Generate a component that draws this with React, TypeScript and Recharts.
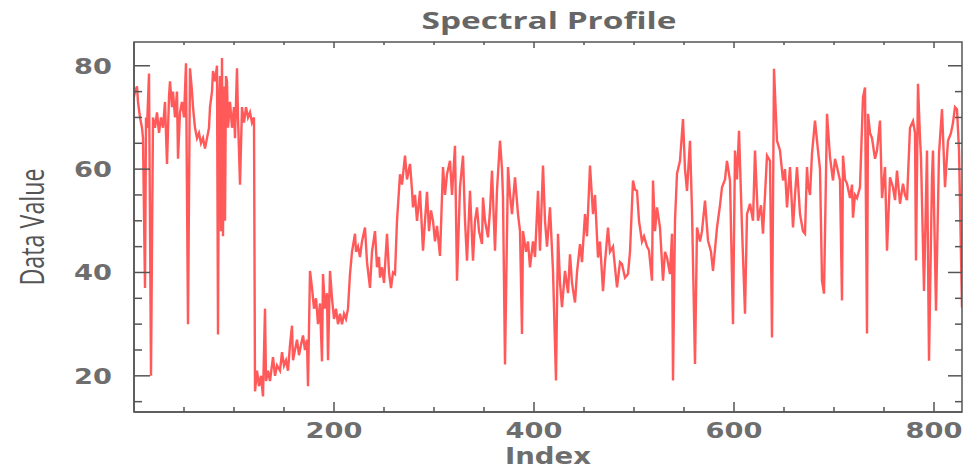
import { LineChart, Line, XAxis, YAxis, ReferenceArea } from "recharts";

// band index -> data value
const indices = [
  0, 1, 3, 4, 6, 8, 9, 11, 12, 13, 15, 17, 19, 21, 23, 25, 27, 29, 31, 33, 35, 36, 38, 39, 41, 43, 44, 46, 48, 50,
  52, 54, 56, 58, 59, 61, 63, 65, 67, 69, 71, 73, 75, 76, 78, 79, 81, 83, 84, 85, 86, 87, 88, 89, 90, 91, 92, 93,
  94, 96, 98, 100, 101, 103, 104, 106, 108, 110, 112, 114, 116, 118, 120, 121, 123, 125, 127, 129, 131, 132, 134,
  136, 139, 141, 143, 146, 148, 150, 152, 154, 156, 158, 159, 161, 163, 165, 167, 169, 171, 173, 174, 176, 178,
  180, 182, 184, 186, 188, 189, 191, 193, 194, 196, 198, 200, 202, 204, 206, 208, 210, 212, 214, 216, 218, 221,
  222, 224, 226, 228, 231, 233, 236, 238, 241, 243, 245, 246, 248, 250, 253, 255, 257, 259, 261, 263, 266, 268,
  271, 273, 276, 278, 279, 281, 283, 286, 289, 291, 293, 295, 297, 299, 301, 303, 306, 309, 311, 313, 316, 318,
  321, 323, 326, 329, 331, 333, 336, 339, 341, 343, 345, 348, 349, 351, 354, 356, 358, 361, 363, 366, 368, 369,
  371, 374, 376, 378, 381, 384, 386, 388, 389, 392, 394, 396, 399, 401, 404, 406, 409, 411, 413, 416, 419, 422,
  424, 426, 428, 431, 434, 436, 438, 441, 443, 446, 448, 451, 453, 456, 459, 461, 464, 466, 469, 471, 474, 476,
  479, 481, 483, 486, 488, 491, 494, 496, 499, 501, 503, 505, 508, 510, 513, 515, 518, 519, 521, 523, 526, 529,
  531, 533, 536, 538, 539, 541, 543, 546, 549, 551, 553, 556, 558, 561, 563, 566, 568, 571, 574, 577, 579, 583,
  586, 588, 591, 593, 596, 599, 601, 603, 605, 608, 611, 613, 616, 619, 621, 624, 627, 629, 631, 633, 636, 638,
  640, 642, 643, 646, 649, 651, 653, 656, 659, 661, 663, 666, 669, 671, 673, 674, 676, 678, 681, 684, 686, 688,
  690, 693, 696, 699, 701, 703, 706, 708, 709, 711, 713, 716, 718, 719, 721, 723, 726, 729, 731, 733, 734, 736,
  738, 741, 743, 746, 748, 751, 753, 756, 759, 761, 763, 766, 769, 771, 773, 776, 779, 781, 782, 784, 786, 787,
  790, 793, 795, 798, 799, 802, 805, 808, 811, 814, 817, 819, 821, 823, 825, 828,
];

const values = [
  74, 75, 76, 73, 70, 68, 66, 37, 70, 68, 78.5, 20, 70, 68, 71, 67, 70, 68, 73, 61, 74, 77, 72, 75, 70, 75, 62, 71,
  73, 70, 80.5, 30, 79.5, 75, 72, 68, 66, 67, 65, 66, 64, 66, 68, 72, 75, 79, 77, 80, 28, 72, 78, 48, 81.5, 47,
  76, 50, 78, 77, 68, 73, 68, 72, 66, 79.5, 70, 57, 72, 69, 72, 70, 71, 69, 70, 17, 21, 18, 20, 16, 33, 19, 21,
  19, 23.6, 20, 22, 21, 24.6, 22, 23, 21, 26, 29.7, 23, 25, 27, 24, 26, 27.8, 25, 27, 18, 40.3, 37, 33, 35, 30, 34,
  22.8, 39.7, 33, 36, 23, 40.3, 35, 31, 33, 30, 32, 30, 32, 31, 33, 39.7, 44, 47.5, 44, 45, 43, 46, 48.7, 42, 37,
  44, 48, 41, 43, 39, 41, 38, 47.5, 40, 37, 40, 39.7, 50, 59, 57, 62.6, 58, 61, 56, 52.6, 55, 50, 55.8, 44.2, 50,
  55.6, 48, 52, 50, 46, 49, 43.2, 60.4, 55, 59, 61.6, 55, 64.5, 38.4, 56.5, 62.6, 50, 42.3, 55.8, 42.3, 50, 52.6,
  48, 45.5, 54.5, 50, 46.8, 52, 59.7, 44.2, 56, 65.5, 60, 54.5, 22.2, 60.4, 55, 51.3, 58.4, 51.3, 48, 28.1, 48, 44,
  46, 41, 46, 43, 55.8, 44.2, 60.7, 50, 45, 52.6, 40.3, 19.1, 47.5, 38, 33.3, 40.3, 36, 43.5, 38, 34.2, 40, 45.5,
  42, 51.3, 47, 60.7, 51.3, 55, 42.9, 46, 36.4, 42, 48.7, 44, 45, 41, 37.1, 42, 41.6, 39, 39.7, 44, 57.8, 56, 55.8,
  50, 46, 47, 45, 44.3, 38.4, 57.8, 48, 52.6, 48.7, 38.4, 44, 42.9, 39.7, 47.5, 19.1, 50, 59.1, 61.6, 69.7, 60,
  55.8, 65.5, 52, 22.3, 48.7, 46, 48, 53.9, 46.2, 44, 40.3, 48.7, 53, 56.5, 58, 61.6, 57.8, 30, 63.6, 58, 67.4,
  48.7, 32, 51.3, 53.3, 50, 63.6, 50, 53, 47.5, 55, 62.6, 61.6, 27.4, 79.4, 70, 65.5, 63.6, 57.8, 60, 52.6, 60.4,
  48.7, 55, 60.4, 51.3, 48, 47.5, 60.4, 57.2, 55, 63, 69.4, 63.6, 60, 38.4, 35.9, 70.7, 62.3, 57.8, 62, 60.4, 57.8,
  34.6, 62.6, 58, 57.2, 54.4, 57, 50.6, 55, 54.4, 56.5, 73.9, 75.8, 28.2, 70.7, 67, 66, 62, 63.6, 69.4, 54.4, 60.4,
  44.2, 58.4, 56.5, 54, 59.7, 53.3, 57.2, 55, 54, 68, 69.3, 67, 42.3, 76.5, 66, 62.3, 36.4, 63.6, 22.9, 58.4, 63.6,
  32.6, 63, 71.6, 56.5, 65.5, 67, 69, 72, 71.6, 63.6, 33.2,
];

const xTicks = [50, 100, 150, 200, 250, 300, 350, 400, 450, 500, 550, 600, 650, 700, 750, 800];
const yTicks = [15, 20, 25, 30, 35, 40, 45, 50, 55, 60, 65, 70, 75, 80];

const data = indices.map((index, i) => ({ index, value: values[i] }));

const LEFT = 134;
const RIGHT = 962;
const TOP = 42;
const BOTTOM = 412;
const AXIS = "#555";
const LABEL = "#6e6e6e";
const STRETCH = 1.33;

function XTick({ x, payload }: any) {
  const major = payload.value % 200 === 0;
  return (
    <g>
      <line x1={x} x2={x} y1={BOTTOM} y2={BOTTOM - (major ? 10 : 5)} stroke={AXIS} strokeWidth={1.5} />
      <line x1={x} x2={x} y1={TOP} y2={TOP + (major ? 6 : 3)} stroke={AXIS} strokeWidth={1.5} />
      {major && (
        <text
          transform={`translate(${x},${438}) scale(${STRETCH},1)`}
          textAnchor="middle"
          fontFamily="DejaVu Sans"
          fontWeight="bold"
          fontSize={20.5}
          fill={LABEL}
        >
          {payload.value}
        </text>
      )}
    </g>
  );
}

function YTick({ y, payload }: any) {
  const major = payload.value % 20 === 0;
  return (
    <g>
      <line x1={LEFT} x2={LEFT + (major ? 16 : 8)} y1={y} y2={y} stroke={AXIS} strokeWidth={1.5} />
      <line x1={RIGHT} x2={RIGHT - (major ? 14 : 7)} y1={y} y2={y} stroke={AXIS} strokeWidth={1.5} />
      {major && (
        <text
          transform={`translate(${112},${y + 8}) scale(${STRETCH},1)`}
          textAnchor="end"
          fontFamily="DejaVu Sans"
          fontWeight="bold"
          fontSize={20.5}
          fill={LABEL}
        >
          {payload.value}
        </text>
      )}
    </g>
  );
}

function IndexLabel() {
  return (
    <text
      x={548}
      y={464}
      textAnchor="middle"
      fontFamily="DejaVu Sans"
      fontWeight="bold"
      fontSize={23}
      fill={LABEL}
      textLength={86}
      lengthAdjust="spacingAndGlyphs"
    >
      Index
    </text>
  );
}

function ValueLabel() {
  return (
    <text
      transform={`translate(44,227) scale(${STRETCH},1) rotate(-90)`}
      textAnchor="middle"
      fontFamily="Open Sans"
      fontSize={25}
      fill="#555"
      textLength={117}
      lengthAdjust="spacingAndGlyphs"
    >
      Data Value
    </text>
  );
}

export default function App() {
  return (
    <div style={{ position: "absolute", left: 0, top: 0, width: 967, height: 469, background: "#fff" }}>
      <svg width={967} height={40} style={{ position: "absolute", left: 0, top: 0 }}>
        <text
          x={549}
          y={29}
          textAnchor="middle"
          fontFamily="Open Sans"
          fontWeight="bold"
          fontSize={23}
          fill="#666"
          textLength={255}
          lengthAdjust="spacingAndGlyphs"
        >
          Spectral Profile
        </text>
      </svg>
      <LineChart width={967} height={469} data={data} margin={{ top: TOP, right: 5, bottom: 0, left: 0 }}>
        <XAxis
          dataKey="index"
          type="number"
          domain={[0, 828]}
          ticks={xTicks}
          interval={0}
          allowDataOverflow
          height={57}
          tickLine={false}
          axisLine={{ stroke: AXIS, strokeWidth: 1.5 }}
          tick={(props: any) => <XTick {...props} />}
          label={<IndexLabel />}
        />
        <YAxis
          type="number"
          domain={[13, 84.6]}
          ticks={yTicks}
          interval={0}
          allowDataOverflow
          width={134}
          tickLine={false}
          axisLine={{ stroke: AXIS, strokeWidth: 1.5 }}
          tick={(props: any) => <YTick {...props} />}
          label={<ValueLabel />}
        />
        <ReferenceArea
          x1={0}
          x2={828}
          y1={13}
          y2={84.6}
          fill="none"
          stroke={AXIS}
          strokeWidth={1.5}
          ifOverflow="visible"
        />
        <Line
          type="linear"
          dataKey="value"
          stroke="#ff0000"
          strokeOpacity={0.65}
          strokeWidth={2.4}
          dot={false}
          isAnimationActive={false}
        />
      </LineChart>
    </div>
  );
}
